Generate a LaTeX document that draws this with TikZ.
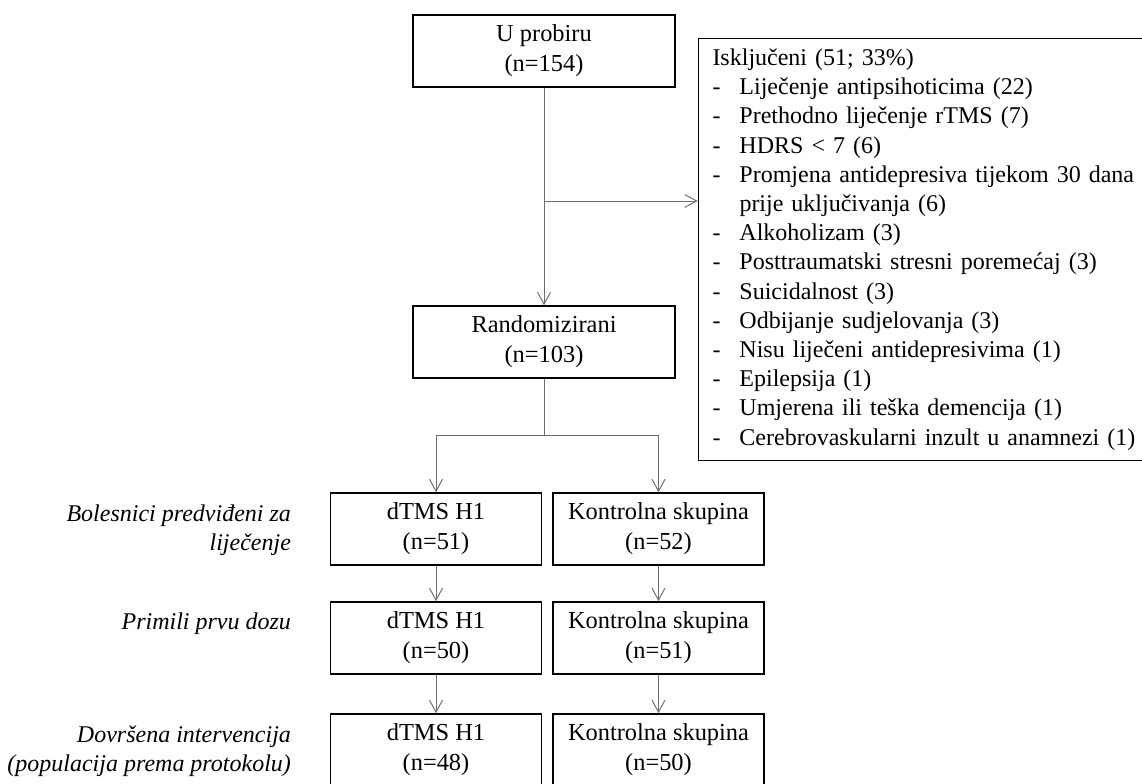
\documentclass[tikz,border=0pt]{standalone}
\usepackage{fontspec}
\setmainfont{Liberation Serif}
\usetikzlibrary{arrows.meta}
\definecolor{linegray}{RGB}{110,110,110}
\newcommand{\chartfont}{\fontsize{12}{14.6}\selectfont}
\newcommand{\isk}[1]{\makebox[13.5pt][l]{-}#1}
\newcommand{\iskcont}[1]{\hspace*{13.5pt}#1}
\tikzset{flowbox/.style={draw, line width=0.8pt, minimum height=36pt, align=center, inner sep=0pt, font=\fontsize{12.2}{15}\selectfont}}
\tikzset{widebox/.style={flowbox, minimum width=131pt}}
\tikzset{armbox/.style={flowbox, minimum width=105.5pt}}
\tikzset{connline/.style={draw=linegray, line width=0.5pt}}
\tikzset{arrowline/.style={connline, -{Straight Barb[length=6pt, width=6.5pt]}}}
\tikzset{rowlabel/.style={anchor=east, align=right, font=\fontsize{12}{14.6}\selectfont\itshape}}

\begin{document}
\begin{tikzpicture}[x=0.5pt, y=-0.5pt, font=\chartfont]
\useasboundingbox (0,0) rectangle (1142,783);
\clip (0,0) rectangle (1142,783);
\node[widebox] (probir) at (544,51) {U probiru\\(n=154)};
\node[widebox] (random) at (544,342) {Randomizirani\\(n=103)};
\node[draw, line width=0.8pt, anchor=north west, minimum width=235pt, minimum height=211pt,
  text width=221pt, inner xsep=7pt, align=left] (iskljuceni) at (697.7,37.7) {Isključeni (51; 33\%)\\
  \isk{Liječenje antipsihoticima (22)}\\
  \isk{Prethodno liječenje rTMS (7)}\\
  \isk{HDRS < 7 (6)}\\
  \isk{Promjena antidepresiva tijekom 30 dana}\\
  \iskcont{prije uključivanja (6)}\\
  \isk{Alkoholizam (3)}\\
  \isk{Posttraumatski stresni poremećaj (3)}\\
  \isk{Suicidalnost (3)}\\
  \isk{Odbijanje sudjelovanja (3)}\\
  \isk{Nisu liječeni antidepresivima (1)}\\
  \isk{Epilepsija (1)}\\
  \isk{Umjerena ili teška demencija (1)}\\
  \isk{Cerebrovaskularni inzult u anamnezi (1)}};
\coordinate (iskl) at (544,201);
\coordinate (fork) at (544,435);

\node[armbox] (dtms1) at (436,529) {dTMS H1\\(n=51)};
\node[armbox] (kont1) at (658.5,529) {Kontrolna skupina\\(n=52)};
\node[armbox] (dtms2) at (436,638) {dTMS H1\\(n=50)};
\node[armbox] (kont2) at (658.5,638) {Kontrolna skupina\\(n=51)};
\node[armbox] (dtms3) at (436,750) {dTMS H1\\(n=48)};
\node[armbox] (kont3) at (658.5,750) {Kontrolna skupina\\(n=50)};

\node[rowlabel] (itt) at (298,530) {Bolesnici predviđeni za\\liječenje};
\node[rowlabel] (prva) at (298,624) {Primili prvu dozu};
\node[rowlabel] (protokol) at (298,751) {Dovršena intervencija\\(populacija prema protokolu)};

\draw[arrowline] (probir) -- (random);
\draw[arrowline] (iskl) -- (iskl -| iskljuceni.west);
\draw[connline] (random) -- (fork);
\draw[arrowline] (fork) -| (dtms1);
\draw[arrowline] (fork) -| (kont1);
\draw[arrowline] (dtms1) -- (dtms2);
\draw[arrowline] (kont1) -- (kont2);
\draw[arrowline] (dtms2) -- (dtms3);
\draw[arrowline] (kont2) -- (kont3);
\end{tikzpicture}
\end{document}
